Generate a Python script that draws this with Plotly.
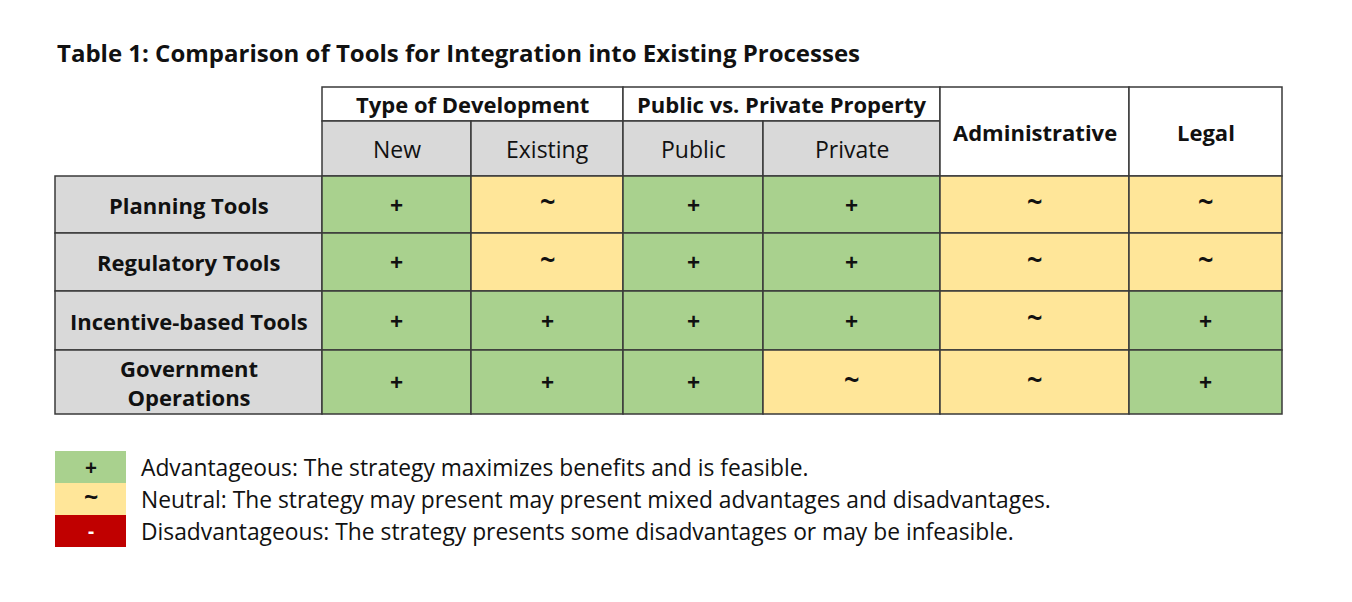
import plotly.graph_objects as go

# table content
title = "Table 1: Comparison of Tools for Integration into Existing Processes"
group_labels = ["Type of Development", "Public vs. Private Property"]
sub_labels = ["New", "Existing", "Public", "Private"]
single_labels = ["Administrative", "Legal"]
row_labels = ["Planning Tools", "Regulatory Tools", "Incentive-based Tools", "Government<br>Operations"]
ratings = [
    ["+", "~", "+", "+", "~", "~"],
    ["+", "~", "+", "+", "~", "~"],
    ["+", "+", "+", "+", "~", "+"],
    ["+", "+", "+", "~", "~", "+"],
]
legend_symbols = ["+", "~", "-"]
legend_texts = [
    "Advantageous: The strategy maximizes benefits and is feasible.",
    "Neutral: The strategy may present may present mixed advantages and disadvantages.",
    "Disadvantageous: The strategy presents some disadvantages or may be infeasible.",
]

fill = {"+": "#a9d18e", "~": "#ffe699", "-": "#c00000"}
sym_size = {"+": 23, "~": 27, "-": 21}
gray = "#d9d9d9"
edge = "#3a3a3a"
font = "Open Sans, sans-serif"

# layout grid (pixels)
col_x = [55, 322, 471, 623, 763, 940, 1129, 1282]
head_y = [87, 121, 176]
row_y = [176, 233, 291, 350, 414]

fig = go.Figure()
shapes = []
notes = []


def cell(x0, x1, y0, y1, color, text=None, size=23, bold=False, txt_color="#111", dy=0):
    shapes.append(dict(type="rect", xref="x", yref="y", x0=x0, x1=x1, y0=y0, y1=y1,
                       fillcolor=color, line=dict(color=edge, width=1.5), layer="below"))
    if text is not None:
        notes.append(dict(x=(x0 + x1) / 2, y=(y0 + y1) / 2 + dy, xref="x", yref="y",
                          text=f"<b>{text}</b>" if bold else text, showarrow=False,
                          font=dict(family=font, size=size, color=txt_color)))


# header: grouped columns
cell(col_x[1], col_x[3], head_y[0], head_y[1], "white", group_labels[0], size=22, bold=True)
cell(col_x[3], col_x[5], head_y[0], head_y[1], "white", group_labels[1], size=22, bold=True)
for i, lab in enumerate(sub_labels):
    cell(col_x[1 + i], col_x[2 + i], head_y[1], head_y[2], gray, lab)
for i, lab in enumerate(single_labels):
    cell(col_x[5 + i], col_x[6 + i], head_y[0], head_y[2], "white", lab, size=22, bold=True)

# body
for r, lab in enumerate(row_labels):
    cell(col_x[0], col_x[1], row_y[r], row_y[r + 1], gray, lab, size=22, bold=True)
    for c, v in enumerate(ratings[r]):
        cell(col_x[c + 1], col_x[c + 2], row_y[r], row_y[r + 1], fill[v], v, size=sym_size[v],
             bold=True, dy=-4 if v == "~" else 0)

# legend
for i, (sym, txt) in enumerate(zip(legend_symbols, legend_texts)):
    y0 = 451 + 32 * i
    shapes.append(dict(type="rect", xref="x", yref="y", x0=55, x1=126, y0=y0, y1=y0 + 32,
                       fillcolor=fill[sym], line=dict(width=0), layer="below"))
    notes.append(dict(x=90.5, y=y0 + 16 - (3 if sym == "~" else 0), xref="x", yref="y",
                      text=f"<b>{sym}</b>", showarrow=False,
                      font=dict(family=font, size=sym_size[sym] - 2,
                                color="white" if sym == "-" else "#111")))
    notes.append(dict(x=139, y=y0 + 16, xref="x", yref="y", text=txt, showarrow=False,
                      xanchor="left", font=dict(family=font, size=22.8, color="#111")))

notes.append(dict(x=55, y=52, xref="x", yref="y", text=f"<b>{title}</b>", showarrow=False,
                  xanchor="left", font=dict(family=font, size=24, color="#111")))

# the page puts the plot 8px in from the corner, so the axes start at 8
fig.update_layout(
    width=1352, height=602,
    margin=dict(l=0, r=0, t=0, b=0),
    paper_bgcolor="white", plot_bgcolor="white",
    xaxis=dict(range=[8, 1360], visible=False, fixedrange=True),
    yaxis=dict(range=[610, 8], visible=False, fixedrange=True),
    shapes=shapes, annotations=notes,
    showlegend=False,
)

fig.write_html("out.html")
